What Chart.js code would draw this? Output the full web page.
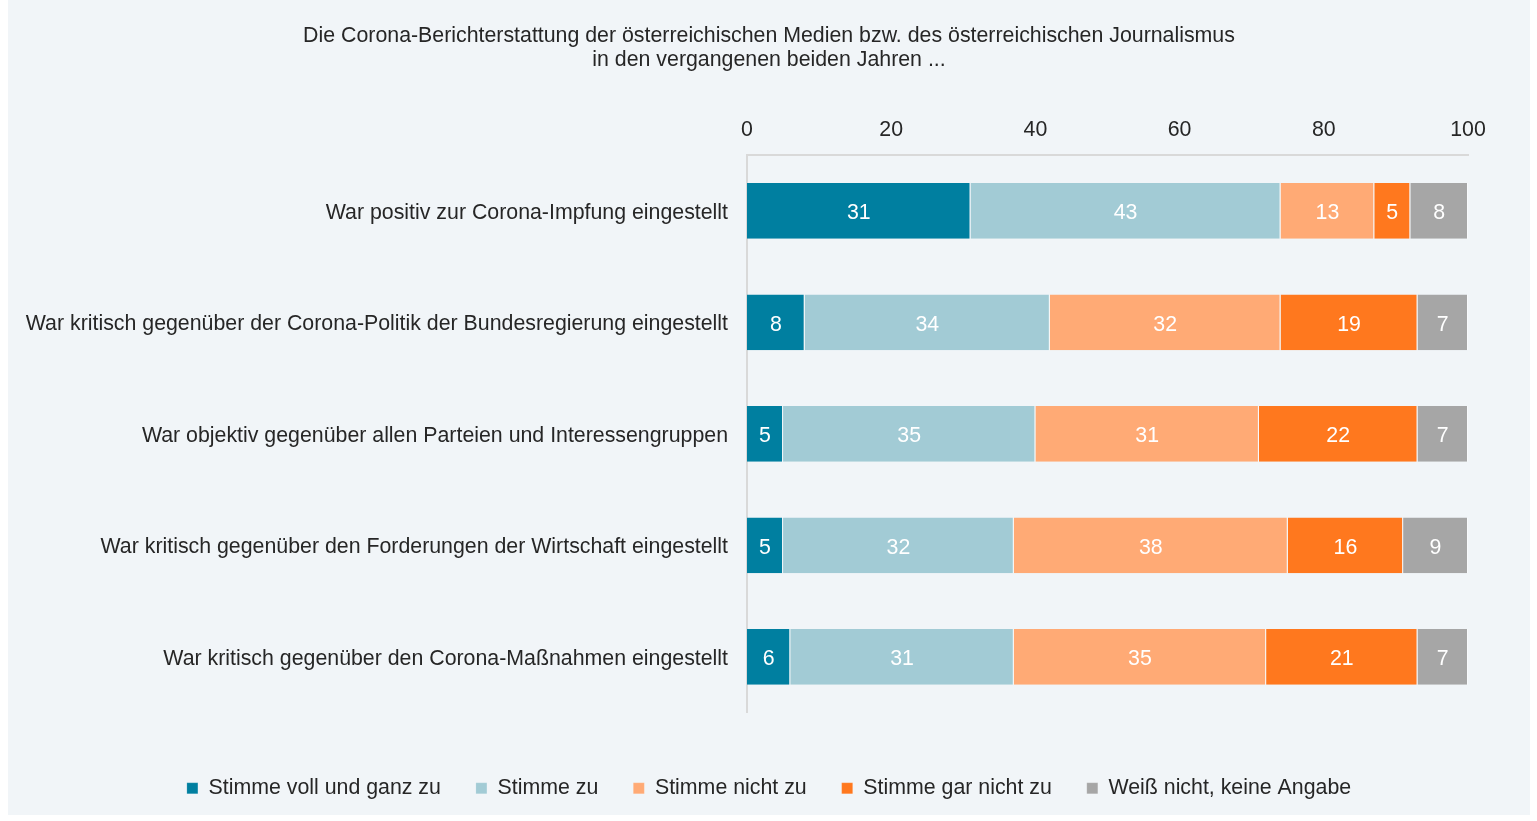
<!DOCTYPE html>
<html>
<head>
<meta charset="utf-8">
<script src="https://cdn.jsdelivr.net/npm/chart.js@4.4.1/dist/chart.umd.min.js"></script>
<style>
  html, body { margin: 0; padding: 0; background: #ffffff; }
  #wrap { position: absolute; left: 8px; top: 0; width: 1522px; height: 815px; background: #f1f5f8; }
</style>
</head>
<body>
<div id="wrap"><canvas id="chart" width="1522" height="815"></canvas></div>
<script>
// Daten
const categories = [
  "War positiv zur Corona-Impfung eingestellt",
  "War kritisch gegenüber der Corona-Politik der Bundesregierung eingestellt",
  "War objektiv gegenüber allen Parteien und Interessengruppen",
  "War kritisch gegenüber den Forderungen der Wirtschaft eingestellt",
  "War kritisch gegenüber den Corona-Maßnahmen eingestellt"
];
const seriesNames = ["Stimme voll und ganz zu", "Stimme zu", "Stimme nicht zu", "Stimme gar nicht zu", "Weiß nicht, keine Angabe"];
const stimmeVoll = [31, 8, 5, 5, 6];
const stimmeZu = [43, 34, 35, 32, 31];
const stimmeNicht = [13, 32, 31, 38, 35];
const stimmeGarNicht = [5, 19, 22, 16, 21];
const weissNicht = [8, 7, 7, 9, 7];
const seriesColors = ["#007fa0", "#a2cbd5", "#ffaa75", "#ff781e", "#a6a6a6"];
const xMin = 0, xMax = 100, xStep = 20;

const titleLines = [
  "Die Corona-Berichterstattung der österreichischen Medien bzw. des österreichischen Journalismus",
  "in den vergangenen beiden Jahren ..."
];

const FS = 21.33;
Chart.defaults.font.family = "'Liberation Sans', Arial, sans-serif";
Chart.defaults.font.size = FS;
Chart.defaults.color = "#262626";

// Werte in die Balken schreiben
const valueLabels = {
  id: 'valueLabels',
  afterDatasetsDraw(chart) {
    const ctx = chart.ctx;
    ctx.save();
    ctx.fillStyle = '#ffffff';
    ctx.font = FS + "px 'Liberation Sans', Arial, sans-serif";
    ctx.textAlign = 'center';
    ctx.textBaseline = 'middle';
    chart.data.datasets.forEach((ds, i) => {
      chart.getDatasetMeta(i).data.forEach((bar, j) => {
        const cx = (bar.x + bar.base) / 2;
        ctx.fillText(ds.data[j], cx, bar.y + 2.5);
      });
    });
    ctx.restore();
  }
};

const allSeries = [stimmeVoll, stimmeZu, stimmeNicht, stimmeGarNicht, weissNicht];

new Chart(document.getElementById('chart'), {
  type: 'bar',
  data: {
    labels: categories,
    datasets: allSeries.map((vals, i) => ({
      label: seriesNames[i],
      data: vals,
      backgroundColor: seriesColors[i],
      borderColor: 'rgba(255,255,255,0.5)',
      borderWidth: { right: 1 },
      borderSkipped: false,
      barPercentage: 0.5,
      categoryPercentage: 1
    }))
  },
  options: {
    indexAxis: 'y',
    responsive: false,
    animation: false,
    layout: { padding: { left: 0, right: 0, top: 0, bottom: 6 } },
    scales: {
      x: {
        position: 'top',
        stacked: true,
        min: xMin,
        max: xMax,
        ticks: { stepSize: xStep, padding: 12, color: '#262626' },
        grid: { display: false, drawTicks: false },
        border: { display: true, color: '#d9d9d9', width: 2 },
        afterFit(scale) { scale.height = 83; }
      },
      y: {
        stacked: true,
        ticks: { padding: 19, labelOffset: 2, color: '#262626' },
        grid: { display: false, drawTicks: false },
        border: { display: true, color: '#d9d9d9', width: 2 },
        afterFit(scale) { scale.width = 739; }
      },
      // rechter Rand
      yRight: {
        axis: 'y',
        position: 'right',
        ticks: { display: false },
        grid: { display: false, drawTicks: false },
        border: { display: false },
        afterFit(scale) { scale.width = 62; }
      }
    },
    plugins: {
      title: {
        display: true,
        text: titleLines,
        color: '#262626',
        font: { size: FS, weight: 'normal', lineHeight: 24 / FS },
        padding: { top: 24, bottom: 0 }
      },
      legend: {
        position: 'bottom',
        title: { display: true, text: ' ', color: 'rgba(0,0,0,0)', font: { size: 20 }, padding: { top: 6, bottom: 0 } },
        labels: {
          boxWidth: 11,
          boxHeight: 11,
          padding: 35,
          color: '#262626',
          font: { size: FS }
        }
      },
      tooltip: { enabled: false }
    }
  },
  plugins: [valueLabels]
});
</script>
</body>
</html>
